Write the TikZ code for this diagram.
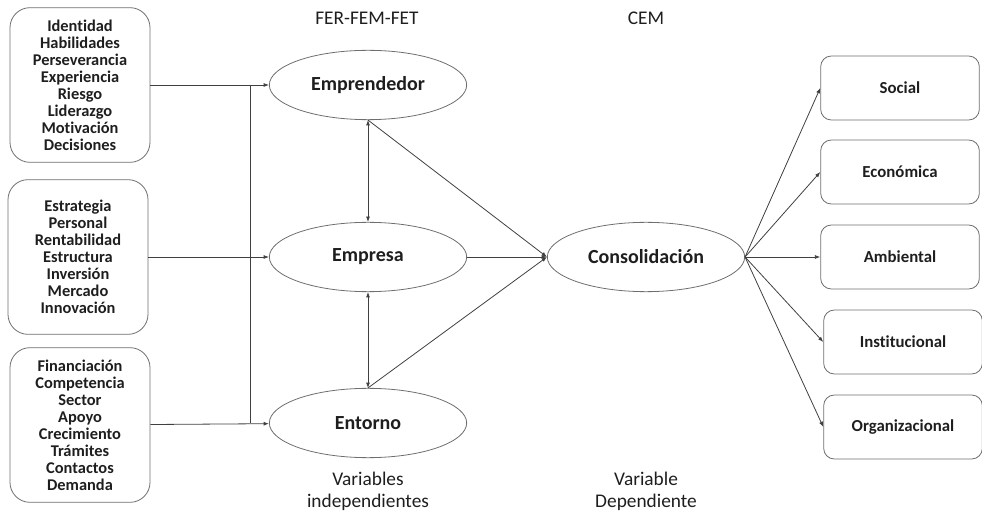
\documentclass[tikz,border=0pt]{standalone}
\usepackage{fontspec}
\setmainfont{Carlito}[Ligatures=NoCommon]
\usepackage{xcolor}
\usepackage{tikz}
\usetikzlibrary{arrows.meta,positioning,shapes.geometric}
\definecolor{linegray}{RGB}{64,64,64}
\definecolor{edgegray}{RGB}{110,110,110}
\definecolor{textdark}{RGB}{30,30,30}

\begin{document}
\begin{tikzpicture}[x=0.75pt,y=-0.75pt,
  listbox/.style={rectangle,rounded corners=15pt,draw=edgegray,line width=0.6pt,
                  minimum width=105pt,minimum height=116pt,align=center,text=textdark,
                  font=\fontsize{12.3}{12.75}\selectfont\bfseries},
  var/.style={ellipse,draw=edgegray,line width=0.6pt,minimum width=148pt,
              minimum height=52pt,text=textdark,font=\fontsize{15}{18}\selectfont\bfseries},
  dimbox/.style={rectangle,rounded corners=8pt,draw=edgegray,line width=0.6pt,
                 minimum width=119pt,minimum height=48pt,text=textdark,
                 font=\fontsize{12.6}{15}\selectfont\bfseries},
  ttl/.style={align=center,text=textdark,font=\fontsize{14.5}{16.5}\selectfont},
  ar/.style={-{Latex[length=4pt,width=3pt]},line width=0.6pt,linegray},
  dar/.style={{Latex[length=4pt,width=3pt]}-{Latex[length=4pt,width=3pt]},line width=0.6pt,linegray},
  ln/.style={line width=0.6pt,linegray}
]
\useasboundingbox (0,0) rectangle (982,513);

% factores
\node[listbox] (fer) at (80,85)  {Identidad\\Habilidades\\Perseverancia\\Experiencia\\Riesgo\\Liderazgo\\Motivación\\Decisiones};
\node[listbox] (fem) at (78,257) {Estrategia\\Personal\\Rentabilidad\\Estructura\\Inversión\\Mercado\\Innovación};
\node[listbox] (fet) at (80,425) {Financiación\\Competencia\\Sector\\Apoyo\\Crecimiento\\Trámites\\Contactos\\Demanda};

% variables independientes
\node[var] (empr) at (368,85)  {Emprendedor};
\node[var] (emsa) at (368,257) {Empresa};
\node[var] (ento) at (368,423) {Entorno};

% variable dependiente
\node[var] (cons) at (646,257) {Consolidación};

% dimensiones
\node[dimbox] (soc) at (900,88)  {Social};
\node[dimbox] (eco) at (900,172) {Económica};
\node[dimbox] (amb) at (900,257) {Ambiental};
\node[dimbox] (ins) at (903,342) {Institucional};
\node[dimbox] (org) at (903,427) {Organizacional};

% titulos
\node[ttl] (tfer) at (367,18)  {FER-FEM-FET};
\node[ttl] (tcem) at (646,18)  {CEM};
\node[ttl] (tind) at (368,491) {Variables\\independientes};
\node[ttl] (tdep) at (646,491) {Variable\\Dependiente};

% entradas
\coordinate (bustop) at (250,85);
\coordinate (busbot) at (250,423);
\draw[ln] (bustop) -- (busbot);
\draw[ar] (fer) -- (empr);
\draw[ar] (fem) -- (emsa);
\draw[ar] (fet) -- (ento);

\draw[dar] (empr) -- (emsa);
\draw[dar] (emsa) -- (ento);

\draw[ar] (empr.south) -- (cons.west);
\draw[ar] (emsa) -- (cons);
\draw[ar] (ento.north) -- (cons.west);

% salidas
\foreach \d in {soc,eco,amb,ins,org}
  \draw[ar] (cons.east) -- (\d.west);
\end{tikzpicture}
\end{document}
